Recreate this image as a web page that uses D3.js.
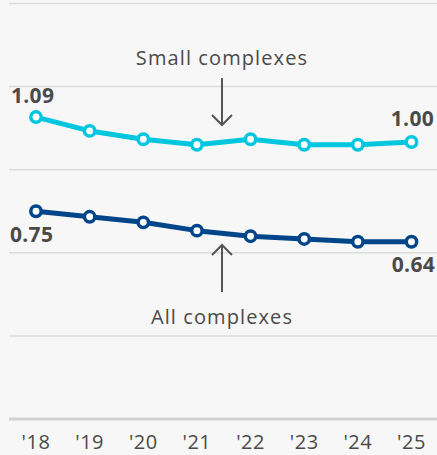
<!DOCTYPE html>
<html><head><meta charset="utf-8">
<script src="https://cdn.jsdelivr.net/npm/d3@7"></script>
<style>
html,body{margin:0;padding:0;background:#f7f7f7;}
svg{display:block;font-family:"Open Sans","Noto Sans",sans-serif;}
</style></head>
<body><svg id="c" width="437" height="455"></svg>
<script>
const years = ["'18","'19","'20","'21","'22","'23","'24","'25"];
const smallComplexes = [1.09, 1.04, 1.01, 0.99, 1.01, 0.99, 0.99, 1.00];
const allComplexes = [0.75, 0.73, 0.71, 0.68, 0.66, 0.65, 0.64, 0.64];
const gridTicks = [0, 0.3, 0.6, 0.9, 1.2, 1.5];

const svg = d3.select("#c");
const W = 437, H = 455;
const x = d3.scalePoint().domain(years).range([36, 411.5]);
const y = d3.scaleLinear().domain([0, 1.5]).range([419, 3.5]);

// grid
svg.append("g").selectAll("line").data(gridTicks).join("line")
  .attr("x1", 9).attr("x2", W)
  .attr("y1", d => y(d)).attr("y2", d => y(d))
  .attr("stroke", d => d === 0 ? "#d2d2d2" : "#dcdcdc")
  .attr("stroke-width", d => d === 0 ? 3 : 1.5);

// x labels
svg.append("g").selectAll("text").data(years).join("text")
  .attr("x", d => x(d)).attr("y", 449)
  .attr("text-anchor", "middle")
  .attr("font-size", 20).attr("letter-spacing", 0.5).attr("fill", "#4a4a4a")
  .text(d => d);

const line = d3.line().x((d, i) => x(years[i])).y(d => y(d));

function series(data, color) {
  svg.append("path").datum(data).attr("d", line)
    .attr("fill", "none").attr("stroke", color).attr("stroke-width", 5)
    .attr("stroke-linejoin", "round");
  svg.append("g").selectAll("circle").data(data).join("circle")
    .attr("cx", (d, i) => x(years[i])).attr("cy", d => y(d))
    .attr("r", 5.2).attr("fill", "#fff")
    .attr("stroke", color).attr("stroke-width", 3.5);
}
series(smallComplexes, "#00c6e0");
series(allComplexes, "#004589");

// value labels
const fmt = d3.format(".2f");
const vl = svg.append("g").attr("font-size", 21).attr("font-weight", 700)
  .attr("letter-spacing", 0.3).attr("fill", "#4a4a4a");
vl.append("text").attr("x", 11).attr("y", 103).text(fmt(smallComplexes[0]));
vl.append("text").attr("x", 434).attr("y", 126).attr("text-anchor", "end").text(fmt(smallComplexes[7]));
vl.append("text").attr("x", 10).attr("y", 242).text(fmt(allComplexes[0]));
vl.append("text").attr("x", 435).attr("y", 272).attr("text-anchor", "end").text(fmt(allComplexes[7]));

// annotations
const ann = svg.append("g").attr("fill", "#4a4a4a").attr("font-size", 20).attr("letter-spacing", 1.1);
ann.append("text").attr("x", 222).attr("y", 65).attr("text-anchor", "middle").text("Small complexes");
ann.append("text").attr("x", 222).attr("y", 324).attr("text-anchor", "middle").text("All complexes");

const arrows = svg.append("g").attr("stroke", "#555").attr("stroke-width", 2).attr("fill", "none");
arrows.append("path").attr("d", "M222,78V125M212,115L222,125L232,115");
arrows.append("path").attr("d", "M222,292V245M212,255L222,245L232,255");
</script></body></html>
